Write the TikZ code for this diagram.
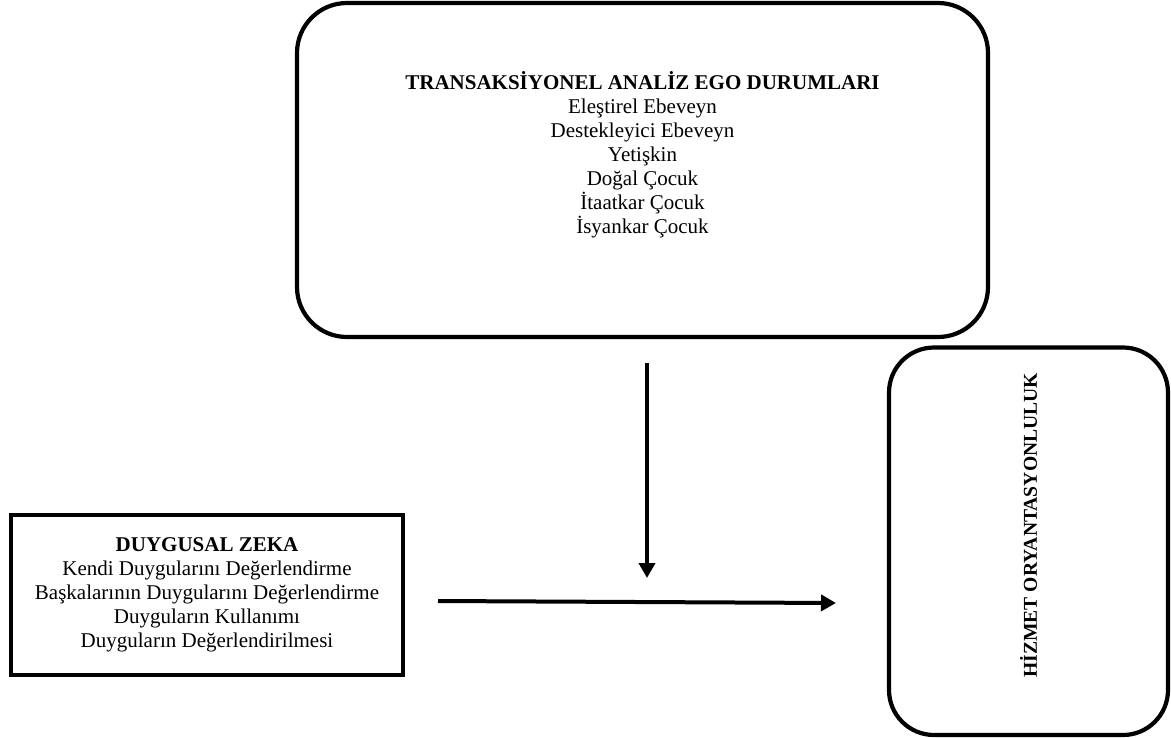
\documentclass[tikz,border=0pt]{standalone}
\usepackage{fontspec}
\setmainfont{Liberation Serif}
\usetikzlibrary{arrows.meta}

\begin{document}
\begin{tikzpicture}[x=1pt,y=-1pt]
	\tikzstyle{every node}=[font=\fontsize{21}{24}\selectfont,align=center,inner sep=0pt];
	\tikzstyle{roundbox}=[draw,line width=4.2pt,rounded corners=50pt];
	\tikzstyle{plainbox}=[draw,line width=4.5pt];
	\tikzstyle{link}=[line width=4pt,-{Triangle[length=15pt,width=16pt]}];
	\useasboundingbox (0,0) rectangle (1171,737);
	\node[roundbox,minimum width=691pt,minimum height=334pt] (ego) at (642.5,170) {};
	\node (egotext) at ([yshift=15pt]ego.center) {\textbf{TRANSAKSİYONEL ANALİZ EGO DURUMLARI}\\
		Eleştirel Ebeveyn\\
		Destekleyici Ebeveyn\\
		Yetişkin\\
		Doğal Çocuk\\
		İtaatkar Çocuk\\
		İsyankar Çocuk};
	\node[plainbox,minimum width=392pt,minimum height=160pt] (dz) at (207,595) {\textbf{DUYGUSAL ZEKA}\\
		Kendi Duygularını Değerlendirme\\
		Başkalarının Duygularını Değerlendirme\\
		Duyguların Kullanımı\\
		Duyguların Değerlendirilmesi};
	\node[roundbox,rounded corners=45pt,minimum width=279pt,minimum height=387.5pt] (hiz) at (1028.5,541.25) {};
	\node[rotate=90,font=\fontsize{19.6}{22}\selectfont] (hiztext) at ([yshift=16pt]hiz.center) {\textbf{HİZMET ORYANTASYONLULUK}};
	\coordinate (v1) at (647,363);
	\coordinate (v2) at (647,578);
	\coordinate (h1) at (438,601);
	\coordinate (h2) at (836,603);
	\draw[link] (v1) -- (v2);
	\draw[link] (h1) -- (h2);
\end{tikzpicture}
\end{document}
